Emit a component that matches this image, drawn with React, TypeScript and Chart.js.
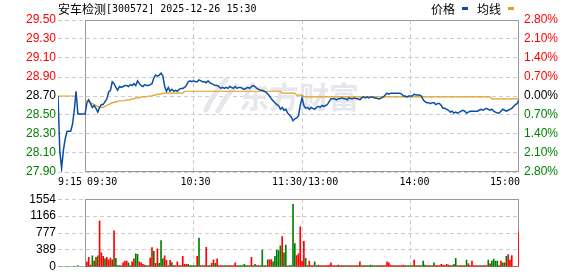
import React, { useEffect, useRef } from "react";
import { Chart, registerables } from "chart.js";

Chart.register(...registerables);

// ---------- texts & ticks ----------
const stockName = "安车检测";
const stockInfo = "[300572] 2025-12-26 15:30";
const legendLabels = ["价格", "均线"];
const watermarkText = "东方财富";
const prevClose = 28.7;
const priceTicks = [27.9, 28.1, 28.3, 28.5, 28.7, 28.9, 29.1, 29.3, 29.5];
const pctTicks = [-2.8, -2.1, -1.4, -0.7, 0, 0.7, 1.4, 2.1, 2.8];
const volumeTicks = [0, 389, 777, 1166, 1554];
const timeLabels = ["9:15", "09:30", "10:30", "11:30/13:00", "14:00", "15:00"];
const timeLabelMinutes = [-15, 0, 60, 120, 180, 240];
const gridMinutes = [60, 120, 180];

// ---------- price (minutes -15..-1 pre-market, 0..120 morning, 121..240 afternoon) ----------
const preMarketPrice = [28.70, 28.12, 27.94, 28.13, 28.25, 28.33, 28.33, 28.33, 28.40, 28.55, 28.75, 28.51, 28.51, 28.51, 28.51];
const preMarketAvg = [28.70, 28.70, 28.70, 28.70, 28.70, 28.70, 28.70, 28.70, 28.70, 28.70, 28.70, null, null, null, null];

const morningPrice = [
  28.51, 28.63, 28.66, 28.62, 28.58, 28.60, 28.57, 28.53, 28.58, 28.61,
  28.61, 28.64, 28.67, 28.74, 28.76, 28.85, 28.83, 28.79, 28.76, 28.80,
  28.79, 28.80, 28.81, 28.81, 28.80, 28.82, 28.81, 28.83, 28.81, 28.86,
  28.83, 28.81, 28.80, 28.82, 28.81, 28.81, 28.82, 28.83, 28.89, 28.92,
  28.91, 28.92, 28.94, 28.91, 28.80, 28.75, 28.79, 28.75, 28.77, 28.75,
  28.76, 28.75, 28.77, 28.78, 28.78, 28.79, 28.81, 28.85, 28.86, 28.85,
  28.86, 28.85, 28.85, 28.87, 28.86, 28.85, 28.85, 28.84, 28.86, 28.84,
  28.83, 28.82, 28.81, 28.81, 28.80, 28.78, 28.79, 28.78, 28.79, 28.78,
  28.80, 28.79, 28.78, 28.80, 28.78, 28.79, 28.79, 28.78, 28.77, 28.78,
  28.79, 28.78, 28.80, 28.81, 28.80, 28.78, 28.77, 28.76, 28.76, 28.75,
  28.74, 28.72, 28.70, 28.67, 28.65, 28.63, 28.61, 28.60, 28.56, 28.58,
  28.55, 28.56, 28.52, 28.50, 28.48, 28.44, 28.46, 28.47, 28.49, 28.60,
  28.68,
];
const morningAvg = [
  28.65, 28.65, 28.64, 28.63, 28.62, 28.61, 28.60, 28.59, 28.58, 28.58,
  28.58, 28.59, 28.60, 28.61, 28.62, 28.63, 28.63, 28.64, 28.64, 28.65,
  28.65, 28.65, 28.65, 28.66, 28.66, 28.66, 28.67, 28.67, 28.68, 28.68,
  28.68, 28.69, 28.69, 28.69, 28.69, 28.70, 28.70, 28.70, 28.71, 28.71,
  28.72, 28.72, 28.72, 28.73, 28.73, 28.73, 28.73, 28.73, 28.73, 28.73,
  28.73, 28.73, 28.73, 28.73, 28.73, 28.75, 28.75, 28.75, 28.75, 28.75,
  28.75, 28.75, 28.75, 28.75, 28.75, 28.75, 28.75, 28.75, 28.75, 28.75,
  28.75, 28.75, 28.75, 28.75, 28.75, 28.75, 28.75, 28.75, 28.75, 28.75,
  28.75, 28.75, 28.75, 28.75, 28.75, 28.75, 28.75, 28.75, 28.75, 28.75,
  28.75, 28.75, 28.75, 28.75, 28.75, 28.75, 28.75, 28.75, 28.75, 28.75,
  28.75, 28.75, 28.75, 28.75, 28.75, 28.75, 28.75, 28.75, 28.75, 28.73,
  28.73, 28.73, 28.73, 28.73, 28.73, 28.73, 28.73, 28.71, 28.71, 28.71,
  28.71,
];
const afternoonPrice = [
  28.60, 28.57, 28.58, 28.56, 28.58, 28.57, 28.56, 28.58, 28.59, 28.58,
  28.60, 28.59, 28.60, 28.61, 28.64, 28.67, 28.67, 28.67, 28.66, 28.67,
  28.67, 28.68, 28.67, 28.67, 28.66, 28.68, 28.67, 28.67, 28.68, 28.67,
  28.67, 28.66, 28.68, 28.69, 28.68, 28.69, 28.68, 28.69, 28.69, 28.68,
  28.68, 28.67, 28.67, 28.68, 28.69, 28.71, 28.73, 28.72, 28.73, 28.73,
  28.73, 28.73, 28.73, 28.73, 28.72, 28.70, 28.70, 28.69, 28.70, 28.70,
  28.70, 28.72, 28.71, 28.71, 28.71, 28.70, 28.66, 28.64, 28.63, 28.63,
  28.62, 28.63, 28.63, 28.61, 28.62, 28.62, 28.60, 28.57, 28.57, 28.56,
  28.55, 28.53, 28.54, 28.52, 28.53, 28.52, 28.53, 28.54, 28.55, 28.54,
  28.52, 28.53, 28.54, 28.54, 28.54, 28.54, 28.54, 28.55, 28.56, 28.55,
  28.56, 28.57, 28.56, 28.55, 28.56, 28.54, 28.53, 28.52, 28.52, 28.54,
  28.56, 28.55, 28.54, 28.55, 28.56, 28.57, 28.59, 28.61, 28.62, 28.66,
];
const afternoonAvg = [
  28.69, 28.69, 28.69, 28.69, 28.69, 28.69, 28.69, 28.69, 28.69, 28.69,
  28.69, 28.69, 28.69, 28.69, 28.69, 28.69, 28.69, 28.69, 28.69, 28.69,
  28.69, 28.69, 28.69, 28.69, 28.69, 28.69, 28.69, 28.69, 28.69, 28.69,
  28.69, 28.69, 28.69, 28.69, 28.69, 28.69, 28.69, 28.69, 28.69, 28.69,
  28.69, 28.69, 28.69, 28.69, 28.69, 28.69, 28.69, 28.69, 28.69, 28.69,
  28.69, 28.69, 28.69, 28.69, 28.69, 28.69, 28.69, 28.69, 28.69, 28.69,
  28.69, 28.69, 28.69, 28.69, 28.69, 28.69, 28.69, 28.69, 28.69, 28.69,
  28.69, 28.69, 28.69, 28.69, 28.69, 28.69, 28.69, 28.69, 28.69, 28.69,
  28.69, 28.69, 28.69, 28.69, 28.69, 28.69, 28.69, 28.69, 28.69, 28.69,
  28.69, 28.69, 28.69, 28.69, 28.69, 28.69, 28.69, 28.69, 28.69, 28.69,
  28.69, 28.69, 28.69, 28.69, 28.67, 28.67, 28.67, 28.67, 28.67, 28.67,
  28.67, 28.67, 28.67, 28.67, 28.67, 28.67, 28.67, 28.67, 28.67, 28.67,
];

// ---------- volume (hands) and bar colour (r = up, g = down) ----------
const preMarketVolume = [0, 0, 0, 0, 0, 0, 0, 0, 0, 0, 0, 28, 0, 0, 0];
const preMarketVolDir = "ggggggggggggggg";
const morningVolume = [
  0, 112, 217, 42, 252, 133, 217, 252, 1057, 322,
  238, 182, 217, 161, 203, 161, 826, 196, 28, 28,
  28, 91, 133, 133, 91, 28, 112, 182, 301, 287,
  112, 91, 56, 42, 28, 28, 203, 441, 357, 77,
  413, 77, 602, 182, 252, 147, 28, 147, 98, 28,
  28, 112, 28, 28, 238, 56, 56, 56, 28, 28,
  28, 28, 238, 658, 28, 28, 28, 448, 28, 28,
  77, 161, 77, 182, 28, 28, 28, 28, 28, 28,
  28, 28, 28, 91, 28, 28, 28, 28, 56, 28,
  28, 28, 217, 28, 56, 28, 28, 28, 385, 28,
  28, 161, 161, 168, 112, 238, 385, 371, 483, 693,
  322, 497, 21, 28, 28, 1435, 532, 260, 301, 917,
  133,
];
const morningVolDir =
  "rrrrggrgrrrgrrrgrggg" + "rrrrggrrggrrrrggrrgr" + "rgggrrgrgrrrrrrrrggg" +
  "ggrgrrrrggrrgrrrrggr" + "rrrrrgggggrgrrgrrggr" + "rgrrgggggrggrggggrrr" + "r";
const afternoonVolume = [
  588, 196, 28, 133, 28, 28, 112, 28, 42, 28,
  28, 28, 28, 28, 42, 91, 28, 28, 28, 42,
  28, 28, 28, 28, 28, 28, 28, 28, 28, 28,
  28, 112, 28, 28, 28, 28, 28, 42, 28, 28,
  28, 28, 28, 28, 28, 28, 112, 91, 42, 28,
  28, 28, 28, 28, 28, 42, 28, 28, 28, 28,
  28, 154, 28, 28, 28, 28, 133, 42, 28, 28,
  28, 28, 91, 28, 28, 28, 56, 42, 28, 56,
  42, 28, 28, 56, 196, 28, 28, 28, 28, 28,
  154, 70, 28, 133, 28, 28, 28, 28, 28, 28,
  28, 28, 154, 70, 133, 175, 133, 133, 28, 133,
  91, 91, 238, 280, 154, 259, 0, 0, 0, 805,
];
const afternoonVolDir =
  "rggrrrggrrgrrrrrrrgr" + "rrgrgrrgrrgrrrggggrg" + "grgrrrrrrrrgrrrrrggg" +
  "rrggrgggrrgrgrrrrrgr" + "rgrggrrgrggrrrrrrgrg" + "rrgrgggggrgrgrrrrrrr";

// ---------- styles ----------
const PRICE_COLOR = "#0b4fa3";
const AVG_COLOR = "#e0a020";
const UP = "#ff0000";
const DOWN = "#008000";
const GRID = "#cccccc";
const FRAME = "#999999";
const DASH = [4, 3];
const NUM_FONT = "'Liberation Sans', Arial, sans-serif";
const MONO_FONT = "'DejaVu Sans Mono', 'Liberation Mono', monospace";
const CJK_FONT = "'Noto Sans CJK SC', 'Noto Sans', sans-serif";

const toPoints = (arr: (number | null)[], start: number) => arr.map((y, i) => ({ x: start + i, y }));

const pricePoints = [...toPoints(preMarketPrice, -15), ...toPoints(morningPrice, 0), ...toPoints(afternoonPrice, 121)];
const avgPoints = [...toPoints(preMarketAvg, -15), ...toPoints(morningAvg, 0), ...toPoints(afternoonAvg, 121)];
const volumePoints = [...toPoints(preMarketVolume, -15), ...toPoints(morningVolume, 0), ...toPoints(afternoonVolume, 121)];
const volumeColors = (preMarketVolDir + morningVolDir + afternoonVolDir).split("").map((c) => (c === "r" ? UP : DOWN));

const framePlugin = {
  id: "sessionFrame",
  beforeDatasetsDraw(chart: any) {
    const { ctx, chartArea, scales } = chart;
    const x0 = Math.round(scales.x.getPixelForValue(0)) + 0.5;
    const x1 = Math.round(scales.x.getPixelForValue(240)) - 0.5;
    const y0 = Math.round(chartArea.top) + 0.5;
    const y1 = Math.round(chartArea.bottom) - 0.5;
    ctx.save();
    ctx.strokeStyle = FRAME;
    ctx.lineWidth = 1;
    ctx.setLineDash([]);
    ctx.strokeRect(x0, y0, x1 - x0, y1 - y0);
    ctx.restore();
  },
};

const priceDecorPlugin = {
  id: "priceDecor",
  beforeDatasetsDraw(chart: any) {
    const { ctx } = chart;
    ctx.save();
    // watermark
    ctx.fillStyle = "#e6e6ec";
    ctx.strokeStyle = "#e6e6ec";
    ctx.lineCap = "round";
    ctx.lineWidth = 5;
    ctx.beginPath();
    ctx.moveTo(206, 110);
    ctx.quadraticCurveTo(214, 92, 226, 80);
    ctx.stroke();
    ctx.beginPath();
    ctx.moveTo(218, 111);
    ctx.quadraticCurveTo(226, 96, 236, 86);
    ctx.stroke();
    ctx.font = `bold 30px ${CJK_FONT}`;
    ctx.textBaseline = "alphabetic";
    ctx.textAlign = "left";
    ctx.fillText(watermarkText, 239, 108);
    ctx.restore();
  },
  afterDraw(chart: any) {
    const { ctx, scales } = chart;
    const xs = scales.x;
    ctx.save();
    // time labels
    ctx.fillStyle = "#000";
    ctx.font = `10px ${MONO_FONT}`;
    ctx.textBaseline = "middle";
    const aligns = ["left", "left", "center", "center", "center", "right"];
    const offsets = [0, 2, 2, 3, 4, 1];
    timeLabels.forEach((t, i) => {
      ctx.textAlign = aligns[i];
      ctx.fillText(t, xs.getPixelForValue(timeLabelMinutes[i]) + offsets[i], 182);
    });
    // title
    ctx.textAlign = "left";
    ctx.font = `12px ${CJK_FONT}`;
    ctx.fillText(stockName, 58, 9);
    const w = ctx.measureText(stockName).width;
    ctx.font = `10px ${MONO_FONT}`;
    ctx.fillText(stockInfo, 58 + w, 9);
    // legend
    ctx.font = `12px ${CJK_FONT}`;
    ctx.fillText(legendLabels[0], 431, 9);
    ctx.fillStyle = PRICE_COLOR;
    ctx.fillRect(462, 7, 6, 3);
    ctx.fillStyle = "#000";
    ctx.fillText(legendLabels[1], 477, 9);
    ctx.fillStyle = AVG_COLOR;
    ctx.fillRect(508, 7, 6, 3);
    ctx.restore();
  },
};

const xScale = () => ({
  type: "linear",
  min: -15,
  max: 240,
  offset: false,
  afterBuildTicks: (s: any) => {
    s.ticks = gridMinutes.map((v) => ({ value: v }));
  },
  ticks: { display: false },
  grid: { color: GRID, drawTicks: false, offset: false },
  border: { display: false, dash: DASH },
  afterFit: (s: any) => {
    s.height = 0;
  },
});

export default function App() {
  const priceRef = useRef<HTMLCanvasElement>(null);
  const volRef = useRef<HTMLCanvasElement>(null);

  useEffect(() => {
    const priceChart = new Chart(priceRef.current as HTMLCanvasElement, {
      type: "line",
      data: {
        datasets: [
          { label: legendLabels[0], data: pricePoints as any, borderColor: PRICE_COLOR, borderWidth: 1.5, pointRadius: 0, tension: 0 },
          { label: legendLabels[1], data: avgPoints as any, borderColor: AVG_COLOR, borderWidth: 1.2, pointRadius: 0, tension: 0, spanGaps: false },
        ],
      },
      options: {
        responsive: false,
        animation: false,
        devicePixelRatio: 1,
        layout: { padding: { top: 20, bottom: 18, left: 0, right: 0 } },
        plugins: { legend: { display: false }, tooltip: { enabled: false }, title: { display: false } },
        scales: {
          x: xScale() as any,
          y: {
            type: "linear",
            position: "left",
            min: 27.9,
            max: 29.5,
            afterBuildTicks: (s: any) => {
              s.ticks = priceTicks.map((v) => ({ value: v }));
            },
            ticks: {
              autoSkip: false,
              padding: 2,
              font: { family: NUM_FONT, size: 12 },
              color: (c: any) => (c.tick.value > prevClose + 1e-6 ? UP : c.tick.value < prevClose - 1e-6 ? DOWN : "#000"),
              callback: (v: any) => Number(v).toFixed(2),
            },
            grid: { color: GRID, drawTicks: false },
            border: { display: false, dash: DASH },
            afterFit: (s: any) => {
              s.width = 58;
            },
          },
          y2: {
            type: "linear",
            position: "right",
            min: -2.8,
            max: 2.8,
            afterBuildTicks: (s: any) => {
              s.ticks = pctTicks.map((v) => ({ value: v }));
            },
            ticks: {
              autoSkip: false,
              padding: 5,
              font: { family: NUM_FONT, size: 12 },
              color: (c: any) => (c.tick.value > 1e-6 ? UP : c.tick.value < -1e-6 ? DOWN : "#000"),
              callback: (v: any) => Math.abs(Number(v)).toFixed(2) + "%",
            },
            grid: { display: false, drawTicks: false },
            border: { display: false },
            afterFit: (s: any) => {
              s.width = 59;
            },
          },
        },
      },
      plugins: [framePlugin, priceDecorPlugin],
    } as any);

    const volumeChart = new Chart(volRef.current as HTMLCanvasElement, {
      type: "bar",
      data: {
        datasets: [
          { data: volumePoints as any, backgroundColor: volumeColors, barThickness: 1, borderWidth: 0 },
        ],
      },
      options: {
        responsive: false,
        animation: false,
        devicePixelRatio: 1,
        layout: { padding: { top: 6, bottom: 6, left: 0, right: 59 } },
        plugins: { legend: { display: false }, tooltip: { enabled: false } },
        scales: {
          x: xScale() as any,
          y: {
            type: "linear",
            position: "left",
            min: 0,
            max: 1554,
            afterBuildTicks: (s: any) => {
              s.ticks = volumeTicks.map((v) => ({ value: v }));
            },
            ticks: { autoSkip: false, padding: 2, font: { family: NUM_FONT, size: 12 }, color: "#000", callback: (v: any) => String(v) },
            grid: { color: GRID, drawTicks: false },
            border: { display: false, dash: DASH },
            afterFit: (s: any) => {
              s.width = 58;
            },
          },
        },
      },
      plugins: [framePlugin],
    } as any);

    return () => {
      priceChart.destroy();
      volumeChart.destroy();
    };
  }, []);

  return (
    <div style={{ position: "absolute", left: 0, top: 0, width: 578, height: 276, background: "#fff" }}>
      <canvas ref={priceRef} width={578} height={190} style={{ position: "absolute", left: 0, top: 0, width: 578, height: 190 }} />
      <canvas ref={volRef} width={578} height={86} style={{ position: "absolute", left: 0, top: 190, width: 578, height: 86 }} />
    </div>
  );
}
